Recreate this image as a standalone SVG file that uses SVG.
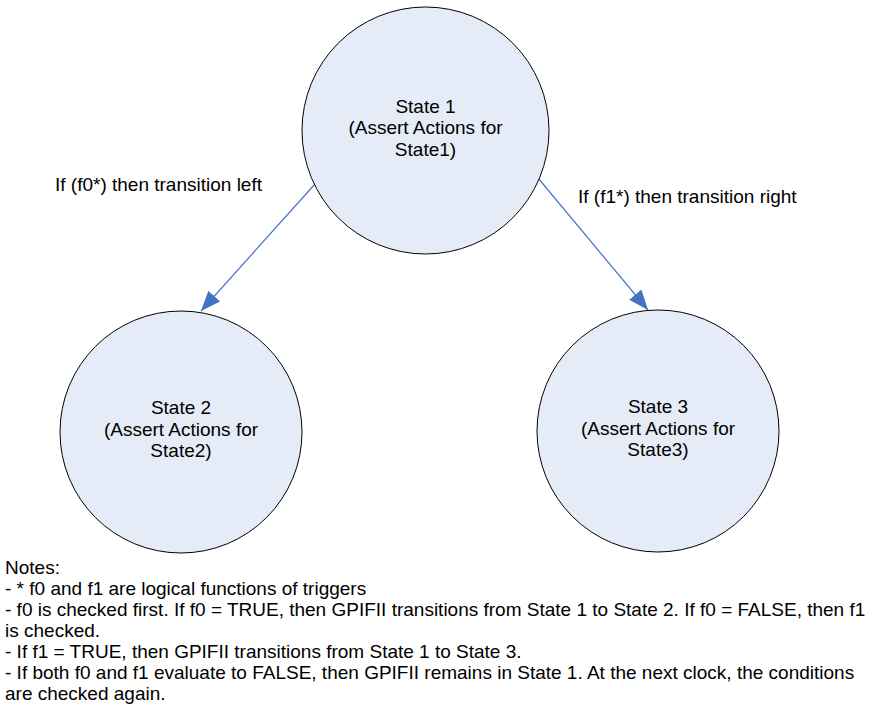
<svg xmlns="http://www.w3.org/2000/svg" width="874" height="704" viewBox="0 0 874 704">
  <style>
    .state { fill: #E6ECF7; stroke: #000000; stroke-width: 1; }
    .txt { font-family: "Liberation Sans", Arial, sans-serif; font-size: 19px; fill: #000000; }
    .mid { text-anchor: middle; }
    .edge { stroke: #4472C4; stroke-width: 1.2; fill: none; marker-end: url(#arrow); }
  </style>
  <defs>
    <marker id="arrow" viewBox="0 0 20 16" refX="20" refY="8" markerWidth="20" markerHeight="16" markerUnits="userSpaceOnUse" orient="auto">
      <path d="M0,0 L20,8 L0,16 z" fill="#4472C4"/>
    </marker>
  </defs>
  <rect width="874" height="704" fill="#FFFFFF"/>

  <!-- transitions -->
  <g id="connectors">
    <line class="edge" x1="315" y1="184" x2="201" y2="311"/>
    <line class="edge" x1="538" y1="178" x2="648" y2="310"/>
    <text class="txt" x="55" y="190.5">If (f0*) then transition left</text>
    <text class="txt" x="578" y="203">If (f1*) then transition right</text>
  </g>

  <g id="state1">
    <circle class="state" cx="425.5" cy="130.5" r="123.5"/>
    <text class="txt mid" x="425.5" y="112.5">State 1</text>
    <text class="txt mid" x="425.5" y="134">(Assert Actions for</text>
    <text class="txt mid" x="425.5" y="155.5">State1)</text>
  </g>

  <g id="state2">
    <circle class="state" cx="181" cy="432" r="121"/>
    <text class="txt mid" x="181" y="414">State 2</text>
    <text class="txt mid" x="181" y="435.5">(Assert Actions for</text>
    <text class="txt mid" x="181" y="457">State2)</text>
  </g>

  <g id="state3">
    <circle class="state" cx="658" cy="431" r="121"/>
    <text class="txt mid" x="658" y="413">State 3</text>
    <text class="txt mid" x="658" y="434.5">(Assert Actions for</text>
    <text class="txt mid" x="658" y="456">State3)</text>
  </g>

  <g id="notes">
    <text class="txt" x="5" y="574">Notes:</text>
    <text class="txt" x="5" y="595">- * f0 and f1 are logical functions of triggers</text>
    <text class="txt" x="5" y="616">- f0 is checked first. If f0 = TRUE, then GPIFII transitions from State 1 to State 2. If f0 = FALSE, then f1</text>
    <text class="txt" x="5" y="637">is checked.</text>
    <text class="txt" x="5" y="658">- If f1 = TRUE, then GPIFII transitions from State 1 to State 3.</text>
    <text class="txt" x="5" y="679">- If both f0 and f1 evaluate to FALSE, then GPIFII remains in State 1. At the next clock, the conditions</text>
    <text class="txt" x="5" y="700">are checked again.</text>
  </g>
</svg>
